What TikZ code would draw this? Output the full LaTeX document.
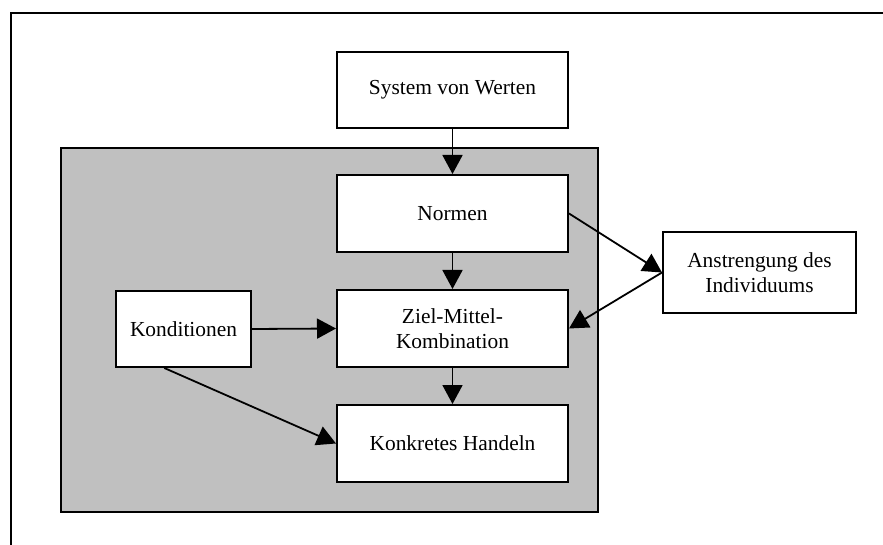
\documentclass[tikz,border=0pt]{standalone}
\usepackage{fontspec}
\setmainfont{Liberation Serif}
\usetikzlibrary{arrows.meta,calc}
\definecolor{panelgray}{RGB}{192,192,192}
\begin{document}
\begin{tikzpicture}[x=1pt,y=-1pt,
  box/.style={draw=black,line width=2pt,fill=white,inner sep=0pt,
    align=center,font=\fontsize{21.4}{24.8}\selectfont},
  link/.style={line width=1.8pt,-{Triangle[length=19pt,width=20pt]}}]
  \useasboundingbox (0,0) rectangle (883,545);
  % outer frame (top and left edges)
  \draw[line width=2.2pt] (11,545) -- (11,13) -- (883,13);
  % shaded panel
  \draw[line width=2.2pt,fill=panelgray] (61,148) rectangle (598,512);
  % boxes
  \node[box,minimum width=231pt,minimum height=76pt] (sys) at (452.5,90) {System von Werten};
  \node[box,minimum width=231pt,minimum height=77pt] (norm) at (452.5,213.5) {Normen};
  \node[box,minimum width=231pt,minimum height=77pt] (ziel) at (452.5,328.5) {Ziel-Mittel-\\Kombination};
  \node[box,minimum width=231pt,minimum height=77pt] (konk) at (452.5,443.5) {Konkretes Handeln};
  \node[box,minimum width=135pt,minimum height=76pt] (kond) at (183.5,329) {Konditionen};
  \node[box,minimum width=193pt,minimum height=81pt] (anst) at (759.5,272.5) {Anstrengung des\\Individuums};
  % connectors
  \draw[link] (sys.south) -- (norm.north);
  \draw[link] (norm.south) -- (ziel.north);
  \draw[link] (ziel.south) -- (konk.north);
  \draw[link] (kond.east) -- (ziel.west);
  \draw[link] (norm.east) -- (anst.west);
  \draw[link] (anst.west) -- (ziel.east);
  \coordinate (kondout) at ($(kond.south west)!0.36!(kond.south east)$);
  \draw[link] (kondout) -- (konk.west);
\end{tikzpicture}
\end{document}
